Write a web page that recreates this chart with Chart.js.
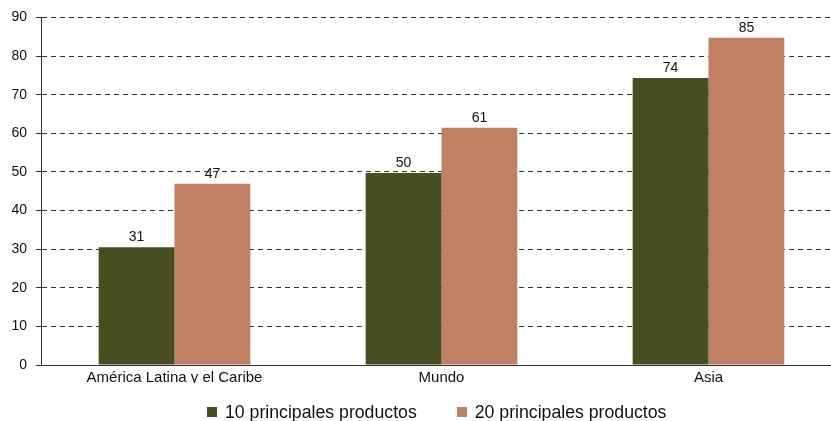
<!DOCTYPE html>
<html>
<head>
<meta charset="utf-8">
<script src="https://cdn.jsdelivr.net/npm/chart.js@4/dist/chart.umd.min.js"></script>
<style>
  html, body { margin: 0; padding: 0; background: #fff; }
  body { width: 831px; height: 421px; overflow: hidden; position: relative;
         font-family: "Liberation Sans", Arial, sans-serif; }
  #wrap { position: absolute; left: 0; top: 0; width: 842px; height: 421px; }
  #legend { position: absolute; left: 207px; top: 402px; display: flex; align-items: center;
            font-size: 17.7px; color: #111; line-height: 20px; white-space: nowrap; }
  .item { display: flex; align-items: center; margin-right: 40px; }
  .box { width: 10px; height: 10px; margin-right: 8px; }
</style>
</head>
<body>
<div id="wrap"><canvas id="chart" width="842" height="421"></canvas></div>
<div id="legend"></div>
<script>
/* datos del gráfico */
const categorias = ['América Latina y el Caribe', 'Mundo', 'Asia'];
const serieNombres = ['10 principales productos', '20 principales productos'];
const top10 = [30.5, 49.7, 74.3];
const top20 = [46.9, 61.4, 84.7];
const ticksY = [0, 10, 20, 30, 40, 50, 60, 70, 80, 90];

const colores = ['#454F21', '#C17F63'];
const fuente = '"Liberation Sans", Arial, sans-serif';

/* etiquetas de valor sobre las barras */
const etiquetasBarras = {
  id: 'etiquetasBarras',
  afterDatasetsDraw(chart) {
    const ctx = chart.ctx;
    ctx.save();
    ctx.font = '14px ' + fuente;
    ctx.fillStyle = '#111';
    ctx.textAlign = 'center';
    ctx.textBaseline = 'bottom';
    chart.data.datasets.forEach((ds, i) => {
      chart.getDatasetMeta(i).data.forEach((bar, j) => {
        ctx.fillText(String(Math.round(ds.data[j])), bar.x, bar.y - 3);
      });
    });
    ctx.restore();
  }
};

new Chart(document.getElementById('chart'), {
  type: 'bar',
  data: {
    labels: categorias,
    datasets: [
      { label: serieNombres[0], data: top10, backgroundColor: colores[0] },
      { label: serieNombres[1], data: top20, backgroundColor: colores[1] },
    ],
  },
  options: {
    responsive: false,
    animation: false,
    layout: { padding: { top: 17, bottom: 38, left: 0, right: 0 } },
    datasets: { bar: { barPercentage: 1, categoryPercentage: 0.568 } },
    plugins: { legend: { display: false }, tooltip: { enabled: false } },
    scales: {
      x: {
        grid: { display: false },
        border: { display: true, color: '#333', width: 1 },
        ticks: { color: '#111', font: { family: fuente, size: 15 }, padding: -4, maxRotation: 0 },
      },
      y: {
        min: 0,
        max: 90,
        afterBuildTicks: (scale) => { scale.ticks = ticksY.map(v => ({ value: v })); },
        afterFit: (scale) => { scale.width = 41; },
        grid: {
          color: (c) => c.tick && c.tick.value === 0 ? 'rgba(0,0,0,0)' : '#333',
          tickColor: '#333',
          tickLength: 5,
          lineWidth: 1,
        },
        border: { display: true, color: '#333', width: 1, dash: [5, 4] },
        ticks: { color: '#111', font: { family: fuente, size: 14 }, padding: 9 },
      },
    },
  },
  plugins: [etiquetasBarras],
});

/* leyenda */
const leyenda = document.getElementById('legend');
serieNombres.forEach((n, i) => {
  const it = document.createElement('div');
  it.className = 'item';
  it.innerHTML = `<span class="box" style="background:${colores[i]}"></span><span>${n}</span>`;
  leyenda.appendChild(it);
});
</script>
</body>
</html>
